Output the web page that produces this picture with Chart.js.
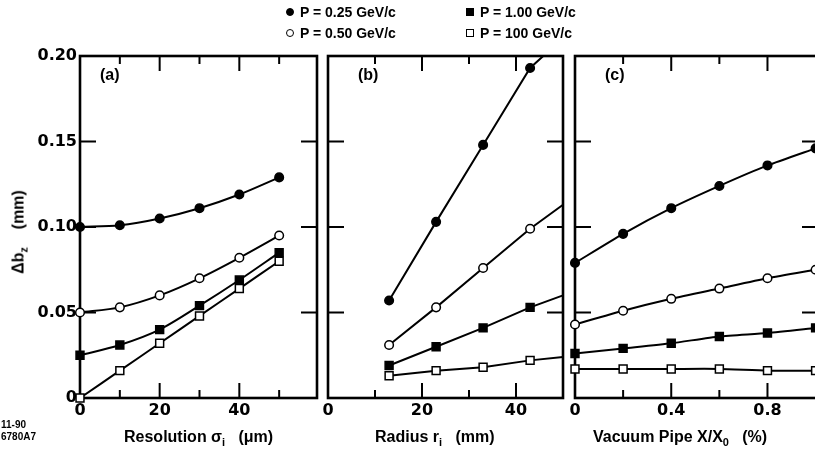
<!DOCTYPE html>
<html>
<head>
<meta charset="utf-8">
<script src="https://cdn.jsdelivr.net/npm/chart.js@4"></script>
<style>
  html, body { margin: 0; padding: 0; background: #fff; overflow: hidden; width: 815px; height: 452px; }
  body { position: relative; font-family: 'Liberation Sans', Arial, sans-serif; font-weight: bold; color: #000; }
  canvas.panel { position: absolute; left: 0; top: 0; }
  .txt { position: absolute; white-space: nowrap; line-height: 1; }
  .leg { font-size: 14px; }
  .mk { display: inline-block; width: 8px; height: 8px; border: 1.5px solid #000; margin-right: 6px; vertical-align: 1px; box-sizing: border-box; }
  .mk.circle { border-radius: 50%; }
  .mk.full { background: #000; }
  .axt { font-size: 16px; top: 429px; }
  .axt sub { font-size: 11px; vertical-align: -4px; }
  .pl { font-size: 16px; top: 67px; }
</style>
</head>
<body>
<canvas id="chartA" class="panel" width="830" height="452"></canvas>
<canvas id="chartB" class="panel" width="830" height="452"></canvas>
<canvas id="chartC" class="panel" width="830" height="452"></canvas>

<!-- legend -->
<div class="txt leg" style="left:286px; top:5px;"><span class="mk circle full"></span>P = 0.25 GeV/c</div>
<div class="txt leg" style="left:286px; top:26px;"><span class="mk circle"></span>P = 0.50 GeV/c</div>
<div class="txt leg" style="left:466px; top:5px;"><span class="mk full"></span>P = 1.00 GeV/c</div>
<div class="txt leg" style="left:466px; top:26px;"><span class="mk"></span>P = 100 GeV/c</div>

<!-- panel tags -->
<div class="txt pl" style="left:100px;">(a)</div>
<div class="txt pl" style="left:358px;">(b)</div>
<div class="txt pl" style="left:605px;">(c)</div>

<!-- axis titles -->
<div class="txt" style="left:20px; top:232px; font-size:16px; transform:translate(-50%,-50%) rotate(-90deg);">&Delta;b<sub style="font-size:11px;vertical-align:-4px;">z</sub>&nbsp;&nbsp;&nbsp;&nbsp;(mm)</div>
<div class="txt axt" style="left:124px;">Resolution &sigma;<sub>i</sub>&nbsp;&nbsp;&nbsp;(&mu;m)</div>
<div class="txt axt" style="left:375px;">Radius r<sub>i</sub>&nbsp;&nbsp;&nbsp;(mm)</div>
<div class="txt axt" style="left:593px;">Vacuum Pipe X/X<sub>0</sub>&nbsp;&nbsp;&nbsp;(%)</div>
<div class="txt" style="left:1px; top:420px; font-size:10px;">11-90</div>
<div class="txt" style="left:1px; top:432px; font-size:10px;">6780A7</div>

<script>
/* ── data ───────────────────────────────── */
const seriesNames = ['P = 0.25 GeV/c', 'P = 0.50 GeV/c', 'P = 1.00 GeV/c', 'P = 100 GeV/c'];
const yTickValues = [0, 0.05, 0.10, 0.15, 0.20];

// (a) resolution
const resX     = [0, 10, 20, 30, 40, 50];
const resP025  = [0.100, 0.101, 0.105, 0.111, 0.119, 0.129];
const resP050  = [0.050, 0.053, 0.060, 0.070, 0.082, 0.095];
const resP100  = [0.025, 0.031, 0.040, 0.054, 0.069, 0.085];
const resP100G = [0.000, 0.016, 0.032, 0.048, 0.064, 0.080];
const resLabels = [0, 20, 40];
const resMajor  = [20, 40];
const resMinor  = [10, 30, 50];

// (b) radius
const radX     = [13, 23, 33, 43];
const radP025  = [0.057, 0.103, 0.148, 0.193];
const radP050  = [0.031, 0.053, 0.076, 0.099];
const radP100  = [0.019, 0.030, 0.041, 0.053];
const radP100G = [0.013, 0.016, 0.018, 0.022];
// where each line leaves the frame
const radEndX  = [45.8, 50, 50, 50];
const radEndY  = [0.200, 0.113, 0.060, 0.024];
const radLabels = [0, 20, 40];
const radMajor  = [20, 40];
const radMinor  = [10, 30];

// (c) vacuum pipe
const pipeX     = [0, 0.2, 0.4, 0.6, 0.8, 1.0];
const pipeP025  = [0.079, 0.096, 0.111, 0.124, 0.136, 0.146];
const pipeP050  = [0.043, 0.051, 0.058, 0.064, 0.070, 0.075];
const pipeP100  = [0.026, 0.029, 0.032, 0.036, 0.038, 0.041];
const pipeP100G = [0.017, 0.017, 0.017, 0.017, 0.016, 0.016];
const pipeLabels = [0, 0.4, 0.8];
const pipeMajor  = [0.4, 0.8];
const pipeMinor  = [0.2, 0.6];

/* ── styles ─────────────────────────────── */
const markers = [
  { pointStyle: 'circle', fill: '#000', r: 4.3 },
  { pointStyle: 'circle', fill: '#fff', r: 4.3 },
  { pointStyle: 'rect',   fill: '#000', r: 5.6 },
  { pointStyle: 'rect',   fill: '#fff', r: 5.6 },
];
const tickFont = { family: "'DejaVu Sans', sans-serif", size: 16, weight: 'bold' };

/* frame + inward tick marks, placed through the chart's own scales */
const framePlugin = {
  id: 'frame',
  beforeDatasetsDraw(chart, args, opts) {
    const { ctx, chartArea: a, scales: { x, y } } = chart;
    ctx.save();
    ctx.strokeStyle = '#000';
    ctx.lineWidth = 2.6;
    ctx.strokeRect(a.left, a.top, a.right - a.left, a.bottom - a.top);
    ctx.lineWidth = 2;
    ctx.beginPath();
    yTickValues.forEach(v => {
      const py = y.getPixelForValue(v);
      if (py <= a.top + 2 || py >= a.bottom - 2) return;
      ctx.moveTo(a.left, py);  ctx.lineTo(a.left + 16, py);
      ctx.moveTo(a.right, py); ctx.lineTo(a.right - 16, py);
    });
    const mark = (vals, len) => vals.forEach(v => {
      const px = x.getPixelForValue(v);
      ctx.moveTo(px, a.bottom); ctx.lineTo(px, a.bottom - len);
      ctx.moveTo(px, a.top);    ctx.lineTo(px, a.top + len);
    });
    mark(opts.major, 15);
    mark(opts.minor, 8);
    ctx.stroke();
    ctx.restore();
  }
};

function buildSeries(xs, ysList, endX, endY, tension) {
  return ysList.map((ys, i) => {
    const data = xs.map((x, j) => ({ x, y: ys[j] }));
    const radius = xs.map(() => markers[i].r);
    if (endX) { data.push({ x: endX[i], y: endY[i] }); radius.push(0); }
    return {
      label: seriesNames[i],
      data,
      borderColor: '#000',
      borderWidth: 2,
      tension,
      pointStyle: markers[i].pointStyle,
      pointRadius: radius,
      pointBackgroundColor: markers[i].fill,
      pointBorderColor: '#000',
      pointBorderWidth: 1.5,
      clip: false,
    };
  });
}

function makePanel(id, cfg) {
  const labelSet = cfg.labels.map(v => Math.round(v * 100) / 100);
  new Chart(document.getElementById(id), {
    type: 'line',
    data: { datasets: cfg.datasets },
    options: {
      responsive: false,
      animation: false,
      layout: { padding: { left: cfg.padLeft, right: 830 - cfg.right, top: 56, bottom: 0 } },
      plugins: {
        legend: { display: false },
        tooltip: { enabled: false },
        frame: { major: cfg.major, minor: cfg.minor },
      },
      scales: {
        x: {
          type: 'linear', min: cfg.xMin, max: cfg.xMax,
          grid: { display: false, drawTicks: false },
          border: { display: false },
          ticks: {
            stepSize: cfg.step, autoSkip: false, maxRotation: 0, padding: 3,
            color: '#000', font: tickFont,
            callback: v => { const r = Math.round(v * 100) / 100; return labelSet.includes(r) ? String(r) : ''; }
          },
          afterFit: s => { s.height = 54; }
        },
        y: {
          min: 0, max: 0.2,
          display: cfg.showY,
          grid: { display: false, drawTicks: false },
          border: { display: false },
          ticks: {
            stepSize: 0.05, padding: 3, color: '#000', font: tickFont,
            callback: v => v === 0 ? '0' : v.toFixed(2)
          },
          afterFit: s => { s.width = cfg.showY ? 80 : 0; }
        }
      }
    },
    plugins: [framePlugin]
  });
}

makePanel('chartA', {
  datasets: buildSeries(resX, [resP025, resP050, resP100, resP100G], null, null, 0.3),
  xMin: 0, xMax: 59.5, step: 10, labels: resLabels, major: resMajor, minor: resMinor,
  padLeft: 0, right: 317, showY: true
});
makePanel('chartB', {
  datasets: buildSeries(radX, [radP025, radP050, radP100, radP100G], radEndX, radEndY, 0),
  xMin: 0, xMax: 50, step: 10, labels: radLabels, major: radMajor, minor: radMinor,
  padLeft: 328, right: 563, showY: false
});
makePanel('chartC', {
  datasets: buildSeries(pipeX, [pipeP025, pipeP050, pipeP100, pipeP100G], null, null, 0.2),
  xMin: 0, xMax: 1.01, step: 0.2, labels: pipeLabels, major: pipeMajor, minor: pipeMinor,
  padLeft: 575, right: 818, showY: false
});
</script>
</body>
</html>
